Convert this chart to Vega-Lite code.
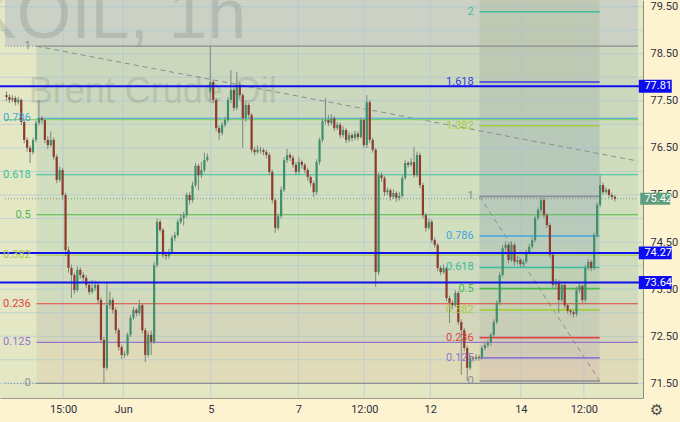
{
"$schema":"https://vega.github.io/schema/vega-lite/v6.json",
"width":643,"height":398,
"autosize":{"type":"none"},
"padding":{"left":0,"top":0,"right":37,"bottom":24},
"background":"#fdf3d0",
"config":{"view":{"fill":"#e3e7c4","stroke":null}},
"resolve":{"scale":{"color":"independent","fill":"independent","stroke":"independent"}},
"datasets":{
"bands":[
{"x1":-0.5,"x2":213.83,"y1":78.66,"y2":79.641,"b":"top"},
{"x1":10.17,"x2":213.83,"y1":77.13,"y2":78.66,"b":"L1"},
{"x1":10.17,"x2":213.83,"y1":75.92,"y2":77.13,"b":"L2"},
{"x1":10.17,"x2":213.83,"y1":75.08,"y2":75.92,"b":"L3"},
{"x1":10.17,"x2":213.83,"y1":74.24,"y2":75.08,"b":"L4"},
{"x1":10.17,"x2":213.83,"y1":73.19,"y2":74.24,"b":"L5"},
{"x1":10.17,"x2":213.83,"y1":72.37,"y2":73.19,"b":"L6"},
{"x1":10.17,"x2":213.83,"y1":71.5,"y2":72.37,"b":"L7"},
{"x1":160.17,"x2":200.83,"y1":77.9,"y2":79.641,"b":"R0"},
{"x1":160.17,"x2":200.83,"y1":76.97,"y2":77.9,"b":"R1"},
{"x1":160.17,"x2":200.83,"y1":75.47,"y2":76.97,"b":"R2"},
{"x1":160.17,"x2":200.83,"y1":74.63,"y2":75.47,"b":"R3"},
{"x1":160.17,"x2":200.83,"y1":73.96,"y2":74.63,"b":"R4"},
{"x1":160.17,"x2":200.83,"y1":73.51,"y2":73.96,"b":"R5"},
{"x1":160.17,"x2":200.83,"y1":73.06,"y2":73.51,"b":"R6"},
{"x1":160.17,"x2":200.83,"y1":72.47,"y2":73.06,"b":"R7"},
{"x1":160.17,"x2":200.83,"y1":72.04,"y2":72.47,"b":"R8"},
{"x1":160.17,"x2":200.83,"y1":71.55,"y2":72.04,"b":"R9"}
],
"gy":[{"v":71.5},{"v":72},{"v":72.5},{"v":73},{"v":73.5},{"v":74},{"v":74.5},{"v":75},{"v":75.5},{"v":76},{"v":76.5},{"v":77},{"v":77.5},{"v":78},{"v":78.5},{"v":79},{"v":79.5}],
"gx":[{"v":19.17},{"v":39.5},{"v":69.17},{"v":98.83},{"v":121.17},{"v":143.5},{"v":174.17},{"v":195.5}],
"wm":[{"x":81.2,"p":78.83,"t":"UKOIL, 1h"}],
"wm2":[{"x":7.5,"p":77.45,"t":"Brent Crude Oil"}],
"fibL":[
{"x1":10.17,"x2":213.83,"p":78.66,"lv":"1"},
{"x1":-0.5,"x2":213.83,"p":77.10,"lv":"g"},
{"x1":10.17,"x2":213.83,"p":77.13,"lv":"0.786"},
{"x1":10.17,"x2":213.83,"p":75.93,"lv":"0.618"},
{"x1":10.17,"x2":213.83,"p":75.08,"lv":"0.5"},
{"x1":10.17,"x2":213.83,"p":74.22,"lv":"0.382"},
{"x1":10.17,"x2":213.83,"p":73.19,"lv":"0.236"},
{"x1":10.17,"x2":213.83,"p":72.37,"lv":"0.125"},
{"x1":10.17,"x2":213.83,"p":71.5,"lv":"0"}
],
"fibR":[
{"x1":160.17,"x2":200.83,"p":79.39,"lv":"2"},
{"x1":160.17,"x2":200.83,"p":77.9,"lv":"1.618"},
{"x1":160.17,"x2":200.83,"p":76.97,"lv":"1.382"},
{"x1":160.17,"x2":200.83,"p":75.47,"lv":"1"},
{"x1":160.17,"x2":200.83,"p":74.63,"lv":"0.786"},
{"x1":160.17,"x2":200.83,"p":73.96,"lv":"0.618"},
{"x1":160.17,"x2":200.83,"p":73.51,"lv":"0.5"},
{"x1":160.17,"x2":200.83,"p":73.06,"lv":"0.382"},
{"x1":160.17,"x2":200.83,"p":72.47,"lv":"0.236"},
{"x1":160.17,"x2":200.83,"p":72.04,"lv":"0.125"},
{"x1":160.17,"x2":200.83,"p":71.55,"lv":"0"}
],
"labs":[
{"x":8.2,"p":78.66,"t":"1"},
{"x":8.2,"p":77.13,"t":"0.786"},
{"x":8.2,"p":75.93,"t":"0.618"},
{"x":8.2,"p":75.08,"t":"0.5"},
{"x":8.2,"p":74.22,"t":"0.382"},
{"x":8.2,"p":73.19,"t":"0.236"},
{"x":8.2,"p":72.37,"t":"0.125"},
{"x":8.2,"p":71.5,"t":"0"},
{"x":158.2,"p":79.39,"t":"2"},
{"x":158.2,"p":77.9,"t":"1.618"},
{"x":158.2,"p":76.97,"t":"1.382"},
{"x":158.2,"p":75.47,"t":"1"},
{"x":158.2,"p":74.63,"t":"0.786"},
{"x":158.2,"p":73.96,"t":"0.618"},
{"x":158.2,"p":73.51,"t":"0.5"},
{"x":158.2,"p":73.06,"t":"0.382"},
{"x":158.2,"p":72.47,"t":"0.236"},
{"x":158.2,"p":72.04,"t":"0.125"},
{"x":158.2,"p":71.55,"t":"0"}
],
"diag":[
{"x1":10.17,"y1":78.66,"x2":213.83,"y2":76.22},
{"x1":160.17,"y1":75.47,"x2":200.83,"y2":71.55}
],
"dots":[
{"x1":-0.5,"x2":213.83,"p":75.42},
{"x1":-0.5,"x2":10.17,"p":78.66},
{"x1":-0.5,"x2":10.17,"p":71.5}
],
"blue":[{"p":77.81},{"p":74.27},{"p":73.64}],
"pl":[{"p":77.81},{"p":74.27},{"p":73.64}],
"pg":[{"p":75.42}],
"pt":[{"p":77.81},{"p":74.27},{"p":73.64},{"p":75.42}],
"k":[
{"i":0,"o":77.62,"h":77.7,"l":77.5,"c":77.58},
{"i":1,"o":77.58,"h":77.64,"l":77.45,"c":77.52},
{"i":2,"o":77.52,"h":77.62,"l":77.47,"c":77.56},
{"i":3,"o":77.56,"h":77.6,"l":77.4,"c":77.47},
{"i":4,"o":77.47,"h":77.58,"l":77.42,"c":77.52},
{"i":5,"o":77.52,"h":77.55,"l":76.98,"c":77.05},
{"i":6,"o":77.05,"h":77.1,"l":76.6,"c":76.67},
{"i":7,"o":76.67,"h":76.72,"l":76.42,"c":76.5},
{"i":8,"o":76.5,"h":76.55,"l":76.18,"c":76.41},
{"i":9,"o":76.41,"h":76.72,"l":76.36,"c":76.67},
{"i":10,"o":76.67,"h":77.08,"l":76.62,"c":77.03},
{"i":11,"o":77.03,"h":77.52,"l":76.98,"c":77.13},
{"i":12,"o":77.13,"h":77.18,"l":77.02,"c":77.09},
{"i":13,"o":77.09,"h":77.12,"l":76.6,"c":76.67},
{"i":14,"o":76.67,"h":76.75,"l":76.48,"c":76.56},
{"i":15,"o":76.56,"h":76.85,"l":76.52,"c":76.67},
{"i":16,"o":76.67,"h":76.72,"l":76.25,"c":76.31},
{"i":17,"o":76.31,"h":76.36,"l":75.75,"c":75.82},
{"i":18,"o":75.82,"h":76.1,"l":75.78,"c":76.03},
{"i":19,"o":76.03,"h":76.08,"l":75.4,"c":75.5},
{"i":20,"o":75.5,"h":75.55,"l":74.2,"c":74.33},
{"i":21,"o":74.33,"h":74.4,"l":73.85,"c":73.95},
{"i":22,"o":73.95,"h":74.02,"l":73.31,"c":73.8},
{"i":23,"o":73.8,"h":73.85,"l":73.4,"c":73.48},
{"i":24,"o":73.48,"h":73.98,"l":73.44,"c":73.91},
{"i":25,"o":73.91,"h":73.96,"l":73.72,"c":73.8},
{"i":26,"o":73.8,"h":73.86,"l":73.66,"c":73.74},
{"i":27,"o":73.74,"h":73.8,"l":73.52,"c":73.59},
{"i":28,"o":73.59,"h":73.66,"l":73.38,"c":73.44},
{"i":29,"o":73.44,"h":73.7,"l":73.4,"c":73.52},
{"i":30,"o":73.52,"h":73.68,"l":73.46,"c":73.59},
{"i":31,"o":73.59,"h":73.64,"l":73.2,"c":73.27},
{"i":32,"o":73.27,"h":73.32,"l":72.35,"c":72.42},
{"i":33,"o":72.42,"h":72.48,"l":71.5,"c":71.83},
{"i":34,"o":71.83,"h":73.63,"l":71.78,"c":73.16},
{"i":35,"o":73.16,"h":73.45,"l":73.08,"c":73.27},
{"i":36,"o":73.27,"h":73.32,"l":72.98,"c":73.06},
{"i":37,"o":73.06,"h":73.12,"l":72.55,"c":72.63},
{"i":38,"o":72.63,"h":72.68,"l":72.2,"c":72.27},
{"i":39,"o":72.27,"h":72.32,"l":72.02,"c":72.1},
{"i":40,"o":72.1,"h":72.18,"l":72.04,"c":72.12},
{"i":41,"o":72.12,"h":72.58,"l":72.08,"c":72.53},
{"i":42,"o":72.53,"h":72.95,"l":72.48,"c":72.89},
{"i":43,"o":72.89,"h":73.12,"l":72.84,"c":73.06},
{"i":44,"o":73.06,"h":73.1,"l":72.92,"c":72.99},
{"i":45,"o":72.99,"h":73.27,"l":72.94,"c":73.16},
{"i":46,"o":73.16,"h":73.2,"l":72.56,"c":72.63},
{"i":47,"o":72.63,"h":72.68,"l":71.95,"c":72.1},
{"i":48,"o":72.1,"h":72.6,"l":72.05,"c":72.53},
{"i":49,"o":72.53,"h":72.62,"l":72.1,"c":72.38},
{"i":50,"o":72.38,"h":74.08,"l":72.33,"c":74.01},
{"i":51,"o":74.01,"h":75.0,"l":73.96,"c":74.93},
{"i":52,"o":74.93,"h":74.98,"l":74.7,"c":74.76},
{"i":53,"o":74.76,"h":74.8,"l":74.16,"c":74.23},
{"i":54,"o":74.23,"h":74.3,"l":74.12,"c":74.2},
{"i":55,"o":74.2,"h":74.36,"l":74.14,"c":74.29},
{"i":56,"o":74.29,"h":74.64,"l":74.24,"c":74.59},
{"i":57,"o":74.59,"h":74.72,"l":74.52,"c":74.65},
{"i":58,"o":74.65,"h":74.98,"l":74.6,"c":74.93},
{"i":59,"o":74.93,"h":75.1,"l":74.88,"c":75.01},
{"i":60,"o":75.01,"h":75.14,"l":74.85,"c":75.07},
{"i":61,"o":75.07,"h":75.55,"l":75.02,"c":75.5},
{"i":62,"o":75.5,"h":75.56,"l":75.3,"c":75.39},
{"i":63,"o":75.39,"h":75.78,"l":75.34,"c":75.71},
{"i":64,"o":75.71,"h":76.18,"l":75.66,"c":76.12},
{"i":65,"o":76.12,"h":76.16,"l":75.6,"c":75.92},
{"i":66,"o":75.92,"h":76.2,"l":75.86,"c":76.03},
{"i":67,"o":76.03,"h":76.4,"l":75.98,"c":76.24},
{"i":68,"o":76.24,"h":76.38,"l":76.2,"c":76.31},
{"i":69,"o":77.7,"h":78.66,"l":77.5,"c":77.9},
{"i":70,"o":77.9,"h":77.95,"l":77.45,"c":77.52},
{"i":71,"o":77.52,"h":77.56,"l":76.85,"c":76.92},
{"i":72,"o":76.92,"h":76.98,"l":76.67,"c":76.82},
{"i":73,"o":76.82,"h":77.05,"l":76.76,"c":76.99},
{"i":74,"o":76.99,"h":77.16,"l":76.94,"c":77.09},
{"i":75,"o":77.09,"h":77.58,"l":77.04,"c":77.52},
{"i":76,"o":77.52,"h":78.15,"l":77.45,"c":77.73},
{"i":77,"o":77.73,"h":77.78,"l":77.28,"c":77.35},
{"i":78,"o":77.35,"h":78.11,"l":77.3,"c":77.84},
{"i":79,"o":77.84,"h":77.9,"l":77.55,"c":77.62},
{"i":80,"o":77.62,"h":77.66,"l":76.5,"c":77.13},
{"i":81,"o":77.13,"h":77.46,"l":77.06,"c":77.41},
{"i":82,"o":77.41,"h":77.45,"l":77.12,"c":77.2},
{"i":83,"o":77.2,"h":77.24,"l":76.4,"c":76.46},
{"i":84,"o":76.46,"h":76.52,"l":76.34,"c":76.41},
{"i":85,"o":76.41,"h":76.55,"l":76.38,"c":76.46},
{"i":86,"o":76.46,"h":76.52,"l":76.38,"c":76.45},
{"i":87,"o":76.45,"h":76.5,"l":76.34,"c":76.41},
{"i":88,"o":76.41,"h":76.46,"l":76.28,"c":76.35},
{"i":89,"o":76.35,"h":76.4,"l":75.92,"c":75.99},
{"i":90,"o":75.99,"h":76.04,"l":75.32,"c":75.39},
{"i":91,"o":75.39,"h":75.44,"l":74.69,"c":74.8},
{"i":92,"o":74.8,"h":75.1,"l":74.75,"c":75.05},
{"i":93,"o":75.05,"h":75.68,"l":75.0,"c":75.61},
{"i":94,"o":75.61,"h":76.3,"l":75.56,"c":76.24},
{"i":95,"o":76.24,"h":76.48,"l":76.18,"c":76.35},
{"i":96,"o":76.35,"h":76.4,"l":76.22,"c":76.29},
{"i":97,"o":76.29,"h":76.34,"l":76.08,"c":76.14},
{"i":98,"o":76.14,"h":76.2,"l":75.92,"c":75.99},
{"i":99,"o":75.99,"h":76.3,"l":75.94,"c":76.2},
{"i":100,"o":76.2,"h":76.25,"l":76.06,"c":76.14},
{"i":101,"o":76.14,"h":76.18,"l":75.96,"c":76.03},
{"i":102,"o":76.03,"h":76.08,"l":75.8,"c":75.88},
{"i":103,"o":75.88,"h":75.92,"l":75.68,"c":75.75},
{"i":104,"o":75.75,"h":75.8,"l":75.46,"c":75.56},
{"i":105,"o":75.56,"h":76.26,"l":75.5,"c":76.2},
{"i":106,"o":76.2,"h":76.72,"l":76.14,"c":76.67},
{"i":107,"o":76.67,"h":77.12,"l":76.62,"c":77.07},
{"i":108,"o":77.07,"h":77.56,"l":77.0,"c":77.09},
{"i":109,"o":77.09,"h":77.2,"l":76.96,"c":77.03},
{"i":110,"o":77.03,"h":77.22,"l":76.98,"c":77.13},
{"i":111,"o":77.13,"h":77.18,"l":76.86,"c":76.92},
{"i":112,"o":76.92,"h":77.05,"l":76.88,"c":76.99},
{"i":113,"o":76.99,"h":77.04,"l":76.7,"c":76.77},
{"i":114,"o":76.77,"h":76.96,"l":76.72,"c":76.88},
{"i":115,"o":76.88,"h":76.92,"l":76.6,"c":76.67},
{"i":116,"o":76.67,"h":76.84,"l":76.62,"c":76.77},
{"i":117,"o":76.77,"h":76.82,"l":76.64,"c":76.71},
{"i":118,"o":76.71,"h":76.86,"l":76.66,"c":76.8},
{"i":119,"o":76.8,"h":76.85,"l":76.66,"c":76.73},
{"i":120,"o":76.73,"h":77.14,"l":76.7,"c":77.09},
{"i":121,"o":77.09,"h":77.13,"l":76.5,"c":76.56},
{"i":122,"o":76.56,"h":77.62,"l":76.5,"c":77.47},
{"i":123,"o":77.47,"h":77.52,"l":76.6,"c":76.67},
{"i":124,"o":76.67,"h":76.72,"l":76.4,"c":76.46},
{"i":125,"o":76.46,"h":76.5,"l":73.55,"c":73.86},
{"i":126,"o":73.86,"h":75.98,"l":73.8,"c":75.92},
{"i":127,"o":75.92,"h":75.98,"l":75.78,"c":75.86},
{"i":128,"o":75.86,"h":75.9,"l":75.48,"c":75.56},
{"i":129,"o":75.56,"h":75.66,"l":75.5,"c":75.6},
{"i":130,"o":75.6,"h":75.64,"l":75.38,"c":75.46},
{"i":131,"o":75.46,"h":75.62,"l":75.42,"c":75.54},
{"i":132,"o":75.54,"h":75.58,"l":75.35,"c":75.44},
{"i":133,"o":75.44,"h":75.56,"l":75.38,"c":75.48},
{"i":134,"o":75.48,"h":75.92,"l":75.44,"c":75.86},
{"i":135,"o":75.86,"h":76.24,"l":75.82,"c":76.18},
{"i":136,"o":76.18,"h":76.22,"l":76.08,"c":76.14},
{"i":137,"o":76.14,"h":76.28,"l":76.1,"c":76.2},
{"i":138,"o":76.2,"h":76.52,"l":75.86,"c":75.92},
{"i":139,"o":75.92,"h":76.42,"l":75.88,"c":76.35},
{"i":140,"o":76.35,"h":76.4,"l":75.64,"c":75.71},
{"i":141,"o":75.71,"h":75.76,"l":75.0,"c":75.07},
{"i":142,"o":75.07,"h":75.12,"l":74.72,"c":74.8},
{"i":143,"o":74.8,"h":75.0,"l":74.76,"c":74.93},
{"i":144,"o":74.93,"h":74.98,"l":74.48,"c":74.54},
{"i":145,"o":74.54,"h":74.6,"l":74.38,"c":74.44},
{"i":146,"o":74.44,"h":74.48,"l":73.88,"c":73.95},
{"i":147,"o":73.95,"h":74.0,"l":73.8,"c":73.86},
{"i":148,"o":73.86,"h":74.02,"l":73.82,"c":73.95},
{"i":149,"o":73.95,"h":73.98,"l":73.24,"c":73.31},
{"i":150,"o":73.31,"h":73.36,"l":72.78,"c":73.21},
{"i":151,"o":73.21,"h":73.26,"l":73.08,"c":73.16},
{"i":152,"o":73.16,"h":73.48,"l":73.12,"c":73.42},
{"i":153,"o":73.42,"h":73.46,"l":72.74,"c":72.8},
{"i":154,"o":72.8,"h":72.86,"l":71.68,"c":72.63},
{"i":155,"o":72.63,"h":72.68,"l":72.18,"c":72.25},
{"i":156,"o":72.25,"h":72.3,"l":71.55,"c":71.83},
{"i":157,"o":71.83,"h":72.1,"l":71.78,"c":72.04},
{"i":158,"o":72.04,"h":72.08,"l":71.96,"c":72.02},
{"i":159,"o":72.02,"h":72.12,"l":71.98,"c":72.06},
{"i":160,"o":72.06,"h":72.1,"l":71.98,"c":72.04},
{"i":161,"o":72.04,"h":72.3,"l":72.0,"c":72.25},
{"i":162,"o":72.25,"h":72.38,"l":72.2,"c":72.31},
{"i":163,"o":72.31,"h":72.42,"l":72.26,"c":72.36},
{"i":164,"o":72.36,"h":72.58,"l":72.3,"c":72.53},
{"i":165,"o":72.53,"h":72.86,"l":72.48,"c":72.8},
{"i":166,"o":72.8,"h":73.26,"l":72.76,"c":73.21},
{"i":167,"o":73.21,"h":73.86,"l":73.16,"c":73.8},
{"i":168,"o":73.8,"h":74.44,"l":73.75,"c":74.37},
{"i":169,"o":74.37,"h":74.52,"l":74.3,"c":74.44},
{"i":170,"o":74.44,"h":74.48,"l":74.05,"c":74.12},
{"i":171,"o":74.12,"h":74.52,"l":74.08,"c":74.44},
{"i":172,"o":74.44,"h":74.48,"l":74.0,"c":74.08},
{"i":173,"o":74.08,"h":74.2,"l":74.02,"c":74.12},
{"i":174,"o":74.12,"h":74.16,"l":73.96,"c":74.03},
{"i":175,"o":74.03,"h":74.14,"l":73.98,"c":74.08},
{"i":176,"o":74.08,"h":74.34,"l":74.04,"c":74.29},
{"i":177,"o":74.29,"h":74.46,"l":74.24,"c":74.4},
{"i":178,"o":74.4,"h":74.6,"l":74.36,"c":74.54},
{"i":179,"o":74.54,"h":75.06,"l":74.5,"c":75.01},
{"i":180,"o":75.01,"h":75.24,"l":74.96,"c":75.18},
{"i":181,"o":75.18,"h":75.45,"l":75.12,"c":75.39},
{"i":182,"o":75.39,"h":75.44,"l":75.0,"c":75.07},
{"i":183,"o":75.07,"h":75.12,"l":74.8,"c":74.86},
{"i":184,"o":74.86,"h":74.9,"l":74.16,"c":74.23},
{"i":185,"o":74.23,"h":74.28,"l":73.52,"c":73.59},
{"i":186,"o":73.59,"h":73.72,"l":73.52,"c":73.65},
{"i":187,"o":73.65,"h":73.7,"l":72.99,"c":73.27},
{"i":188,"o":73.27,"h":73.66,"l":73.22,"c":73.59},
{"i":189,"o":73.59,"h":73.62,"l":73.1,"c":73.16},
{"i":190,"o":73.16,"h":73.2,"l":72.98,"c":73.04},
{"i":191,"o":73.04,"h":73.08,"l":72.94,"c":73.01},
{"i":192,"o":73.01,"h":73.05,"l":72.9,"c":72.97},
{"i":193,"o":72.97,"h":73.55,"l":72.92,"c":73.48},
{"i":194,"o":73.48,"h":73.64,"l":73.42,"c":73.57},
{"i":195,"o":73.57,"h":73.62,"l":73.2,"c":73.27},
{"i":196,"o":73.27,"h":74.02,"l":73.22,"c":73.95},
{"i":197,"o":73.95,"h":74.14,"l":73.9,"c":74.08},
{"i":198,"o":74.08,"h":74.12,"l":73.88,"c":73.95},
{"i":199,"o":73.95,"h":74.7,"l":73.9,"c":74.65},
{"i":200,"o":74.65,"h":75.34,"l":74.6,"c":75.29},
{"i":201,"o":75.29,"h":75.92,"l":75.24,"c":75.71},
{"i":202,"o":75.71,"h":75.76,"l":75.5,"c":75.56},
{"i":203,"o":75.56,"h":75.66,"l":75.52,"c":75.61},
{"i":204,"o":75.61,"h":75.64,"l":75.44,"c":75.5},
{"i":205,"o":75.5,"h":75.55,"l":75.4,"c":75.46},
{"i":206,"o":75.46,"h":75.5,"l":75.36,"c":75.42}
]
},
"layer":[
{"data":{"name":"bands"},"mark":{"type":"rect"},
 "encoding":{
  "x":{"field":"x1","type":"quantitative","title":null,"scale":{"domain":[-0.5,213.83],"nice":false,"zero":false},
   "axis":{"orient":"bottom","values":[19.17,39.5,69.17,98.83,121.17,143.5,174.17,195.5],
    "labelExpr":"['15:00','Jun','5','7','12:00','12','14','12:00'][indexof([19.17,39.5,69.17,98.83,121.17,143.5,174.17,195.5], datum.value)]",
    "grid":false,"ticks":false,"domain":true,"domainColor":"#9a9a8c","labelFont":"Liberation Sans Narrow, Roboto, sans-serif","labelFontSize":11,"labelColor":"#2f3240","labelPadding":5,"labelFlush":false,"labelOverlap":false,"title":null}},
  "x2":{"field":"x2"},
  "y":{"field":"y1","type":"quantitative","title":null,"scale":{"domain":[71.188,79.641],"nice":false,"zero":false},
   "axis":{"orient":"right","values":[71.5,72,72.5,73,73.5,74,74.5,75,75.5,76,76.5,77,77.5,78,78.5,79,79.5],"format":".2f",
    "grid":false,"ticks":false,"domain":true,"domainColor":"#8c8c80","labelFont":"Liberation Sans Narrow, Roboto, sans-serif","labelFontSize":11,"labelColor":"#2f3240","labelPadding":7,"labelOverlap":false,"labelFlush":false,"labelBound":false,"title":null}},
  "y2":{"field":"y2"},
  "fill":{"field":"b","type":"nominal","legend":null,"scale":{
   "domain":["top","L1","L2","L3","L4","L5","L6","L7","R0","R1","R2","R3","R4","R5","R6","R7","R8","R9"],
   "range":["#cbd2c5","#cbd8bd","#cfdcbe","#d1dfbf","#d2dfbe","#cfdbbc","#d4d6bc","#dfdbb9","#bfc8b3","#bcc9b5","#b8c8b9","#b8cab9","#bbcdb8","#bfd0b5","#c4d1b4","#c9cfb6","#d0cbb6","#dbcdb3"]}}
 }},
{"data":{"name":"gy"},"mark":{"type":"rule","stroke":"#a6c2d8","strokeOpacity":0.55,"strokeWidth":1},
 "encoding":{"y":{"field":"v","type":"quantitative","title":null}}},
{"data":{"name":"gx"},"mark":{"type":"rule","stroke":"#a6c2d8","strokeOpacity":0.55,"strokeWidth":1},
 "encoding":{"x":{"field":"v","type":"quantitative","title":null}}},
{"data":{"name":"wm"},"mark":{"type":"text","align":"right","baseline":"alphabetic","font":"Liberation Sans","fontSize":70,"fill":"#000000","opacity":0.1},
 "encoding":{"x":{"field":"x","type":"quantitative","title":null},"y":{"field":"p","type":"quantitative","title":null},"text":{"field":"t"}}},
{"data":{"name":"wm2"},"mark":{"type":"text","align":"left","baseline":"alphabetic","font":"Liberation Sans","fontSize":36,"fill":"#000000","opacity":0.09},
 "encoding":{"x":{"field":"x","type":"quantitative","title":null},"y":{"field":"p","type":"quantitative","title":null},"text":{"field":"t"}}},
{"data":{"name":"diag"},"mark":{"type":"rule","stroke":"#8a8f88","strokeWidth":1,"strokeDash":[5,4]},
 "encoding":{"x":{"field":"x1","type":"quantitative","title":null},"x2":{"field":"x2"},"y":{"field":"y1","type":"quantitative","title":null},"y2":{"field":"y2"}}},
{"data":{"name":"dots"},"mark":{"type":"rule","stroke":"#7f9488","strokeWidth":1,"strokeDash":[1,2]},
 "encoding":{"x":{"field":"x1","type":"quantitative","title":null},"x2":{"field":"x2"},"y":{"field":"p","type":"quantitative","title":null}}},
{"data":{"name":"fibL"},"mark":{"type":"rule","strokeWidth":1.2},
 "encoding":{"x":{"field":"x1","type":"quantitative","title":null},"x2":{"field":"x2"},"y":{"field":"p","type":"quantitative","title":null},
  "stroke":{"field":"lv","type":"nominal","legend":null,"scale":{"domain":["0","0.125","0.236","0.382","0.5","0.618","0.786","1","1.382","1.618","2","g"],
   "range":["#8a8d94","#9575cd","#e0453f","#a5cc3a","#4cbb4a","#39c09a","#42a5e0","#8a8d94","#a5cc3a","#3838e8","#39c09a","#86cf70"]}}}},
{"data":{"name":"fibR"},"mark":{"type":"rule","strokeWidth":1.6},
 "encoding":{"x":{"field":"x1","type":"quantitative","title":null},"x2":{"field":"x2"},"y":{"field":"p","type":"quantitative","title":null},
  "stroke":{"field":"lv","type":"nominal","legend":null,"scale":{"domain":["0","0.125","0.236","0.382","0.5","0.618","0.786","1","1.382","1.618","2","g"],
   "range":["#8a8d94","#9575cd","#e0453f","#a5cc3a","#4cbb4a","#39c09a","#42a5e0","#8a8d94","#a5cc3a","#3838e8","#39c09a","#86cf70"]}}}},
{"data":{"name":"k"},"mark":{"type":"rule","stroke":"#7d8780","strokeWidth":1},
 "encoding":{"x":{"field":"i","type":"quantitative","title":null},"y":{"field":"l","type":"quantitative","title":null},"y2":{"field":"h"}}},
{"data":{"name":"k"},"mark":{"type":"bar","size":2.2},
 "encoding":{"x":{"field":"i","type":"quantitative","title":null},"y":{"field":"o","type":"quantitative","title":null},"y2":{"field":"c"},
  "color":{"condition":{"test":"datum.c >= datum.o","value":"#3f8f6d"},"value":"#8e3a2c"}}},
{"data":{"name":"blue"},"mark":{"type":"rule","stroke":"#1010ee","strokeWidth":2},
 "encoding":{"y":{"field":"p","type":"quantitative","title":null}}},
{"data":{"name":"labs"},"mark":{"type":"text","align":"right","baseline":"middle","font":"Liberation Sans Narrow, Roboto, sans-serif","fontSize":11},
 "encoding":{"x":{"field":"x","type":"quantitative","title":null},"y":{"field":"p","type":"quantitative","title":null},"text":{"field":"t"},
  "color":{"field":"t","type":"nominal","legend":null,"scale":{"domain":["0","0.125","0.236","0.382","0.5","0.618","0.786","1","1.382","1.618","2"],
   "range":["#8a8d94","#9575cd","#e0453f","#a5cc3a","#4cbb4a","#39c09a","#42a5e0","#8a8d94","#a5cc3a","#3838e8","#39c09a"]}}}},
{"data":{"name":"pl"},"mark":{"type":"point","filled":true,"opacity":1,"strokeWidth":0,"size":1089,"shape":"M-1,-0.39L1,-0.39L1,0.39L-1,0.39Z","fill":"#0c0cf2"},
 "encoding":{"x":{"datum":219.67,"type":"quantitative"},"y":{"field":"p","type":"quantitative","title":null}}},
{"data":{"name":"pg"},"mark":{"type":"point","filled":true,"opacity":1,"strokeWidth":0,"size":900,"shape":"M-1,-0.4L1,-0.4L1,0.4L-1,0.4Z","fill":"#5e9e7e"},
 "encoding":{"x":{"datum":219.67,"type":"quantitative"},"y":{"field":"p","type":"quantitative","title":null}}},
{"data":{"name":"pt"},"mark":{"type":"text","align":"left","baseline":"middle","font":"Liberation Sans Narrow, Roboto, sans-serif","fontSize":11,"fill":"#ffffff"},
 "encoding":{"x":{"datum":216.0,"type":"quantitative"},"y":{"field":"p","type":"quantitative","title":null},"text":{"field":"p","type":"quantitative","format":".2f"}}},
{"data":{"values":[{"g":"⚙"}]},"mark":{"type":"text","align":"center","baseline":"middle","font":"DejaVu Sans","fontSize":15,"fill":"#4a4a4a"},
 "encoding":{"x":{"datum":220.17,"type":"quantitative"},"y":{"datum":70.93,"type":"quantitative"},"text":{"field":"g"}}}
]
}
